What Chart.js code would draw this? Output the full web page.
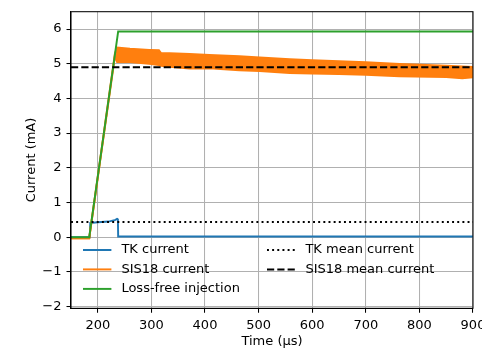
<!DOCTYPE html>
<html><head><meta charset="utf-8">
<script src="https://cdn.jsdelivr.net/npm/chart.js@4/dist/chart.umd.min.js"></script>
<style>html,body{margin:0;padding:0;background:#fff;overflow:hidden}</style>
</head><body>
<canvas id="c" width="482" height="349"></canvas>
<script>
// ---- data ----
const tkTime   = [150, 185, 186, 200, 220, 233, 236, 237.5, 238, 900];
const tkValues = [0.0, 0.0, 0.41, 0.43, 0.45, 0.50, 0.53, 0.52, 0.02, 0.02];

const sisTime  = [150, 184, 232, 236, 260, 296, 314, 318, 334, 371, 408, 464, 502, 558, 600, 650, 700, 763, 850, 880, 900];
const sisUpper = [-0.03, -0.03, 5.30, 5.47, 5.43, 5.40, 5.39, 5.31, 5.30, 5.28, 5.25, 5.22, 5.18, 5.13, 5.10, 5.07, 5.04, 4.99, 4.94, 4.92, 4.91];
const sisLower = [-0.03, -0.03, 5.22, 5.05, 5.05, 5.00, 4.96, 4.94, 4.91, 4.86, 4.87, 4.81, 4.79, 4.73, 4.72, 4.70, 4.68, 4.64, 4.62, 4.58, 4.61];

const lossFreeTime   = [150, 184, 238, 900];
const lossFreeValues = [0.0, 0.0, 5.93, 5.93];

const meanTime  = [150, 900];
const tkMean    = [0.44, 0.44];
const sisMean   = [4.90, 4.90];

const xTicks = [200, 300, 400, 500, 600, 700, 800, 900];
const yTicks = [-2, -1, 0, 1, 2, 3, 4, 5, 6];

const pts = (xs, ys) => xs.map((x, i) => ({x, y: ys[i]}));

Chart.defaults.font.family = '"DejaVu Sans", sans-serif';
Chart.defaults.font.size = 13;
Chart.defaults.color = '#000';

const LW = 1.95;

const datasets = [
  {label: 'TK current', data: pts(tkTime, tkValues), borderColor: '#1f77b4', borderWidth: LW, order: 6, legend: {col: 0, row: 0}},
  {label: 'SIS18 current', data: pts(sisTime, sisUpper), borderColor: '#ff7f0e', backgroundColor: '#ff7f0e', borderWidth: LW, fill: {target: 2}, order: 4, legend: {col: 0, row: 1}},
  {label: 'SIS18 lower', data: pts(sisTime, sisLower), borderColor: '#ff7f0e', borderWidth: LW, order: 5},
  {label: 'Loss-free injection', data: pts(lossFreeTime, lossFreeValues), borderColor: '#2ca02c', borderWidth: LW, order: 3, legend: {col: 0, row: 2}},
  {label: 'TK mean current', data: pts(meanTime, tkMean), borderColor: '#000', borderWidth: LW, borderDash: [1.95, 3.2], order: 2, legend: {col: 1, row: 0}},
  {label: 'SIS18 mean current', data: pts(meanTime, sisMean), borderColor: '#000', borderWidth: LW, borderDash: [7.2, 3.1], order: 1, legend: {col: 1, row: 1}}
];

const framePlugin = {
  id: 'frame',
  afterDatasetsDraw(chart) {
    const {ctx, chartArea: a} = chart;
    ctx.save();
    ctx.strokeStyle = '#000';
    ctx.lineWidth = 1.04;
    ctx.strokeRect(a.left, a.top, a.right - a.left, a.bottom - a.top);
    ctx.restore();
  }
};

const legendPlugin = {
  id: 'inlegend',
  afterDraw(chart) {
    const {ctx, chartArea: a} = chart;
    const colX = [a.left + 12, a.left + 196];
    const rowY = [a.bottom - 58.3, a.bottom - 38.9, a.bottom - 19.4];
    ctx.save();
    ctx.font = '13px "DejaVu Sans", sans-serif';
    ctx.textBaseline = 'middle';
    ctx.textAlign = 'left';
    chart.data.datasets.forEach(ds => {
      if (!ds.legend) return;
      const x0 = colX[ds.legend.col], y = rowY[ds.legend.row];
      ctx.beginPath();
      ctx.setLineDash(ds.borderDash || []);
      ctx.lineWidth = ds.borderWidth;
      ctx.strokeStyle = ds.borderColor;
      ctx.moveTo(x0, y);
      ctx.lineTo(x0 + 28.4, y);
      ctx.stroke();
      ctx.setLineDash([]);
      ctx.fillStyle = '#000';
      ctx.fillText(ds.label, x0 + 38.4, y);
    });
    ctx.restore();
  }
};

new Chart(document.getElementById('c'), {
  type: 'line',
  data: {datasets},
  options: {
    responsive: false,
    animation: false,
    devicePixelRatio: 1,
    layout: {padding: {left: 0, top: 11.7, right: 9, bottom: 0}},
    elements: {point: {radius: 0}, line: {tension: 0}},
    plugins: {legend: {display: false}, tooltip: {enabled: false}},
    scales: {
      x: {
        type: 'linear', min: 150, max: 900,
        afterBuildTicks: s => { s.ticks = xTicks.map(v => ({value: v})); },
        afterFit: s => { s.height = 40.7; s.paddingLeft = 0; s.paddingRight = 0; },
        ticks: {maxRotation: 0, autoSkip: false, padding: 5, color: '#000'},
        grid: {color: '#b0b0b0', lineWidth: 1.04, tickColor: '#000', tickLength: 4.5, tickWidth: 1.04},
        border: {color: '#000', width: 1.04},
        title: {display: true, text: 'Time (µs)', color: '#000', padding: {top: 0, bottom: 0}}
      },
      y: {
        type: 'linear', min: -2.05, max: 6.5,
        afterBuildTicks: s => { s.ticks = yTicks.map(v => ({value: v})); },
        afterFit: s => { s.width = 71; s.paddingTop = 0; s.paddingBottom = 0; },
        ticks: {padding: 5, color: '#000', callback: v => String(v).replace('-', '\u2212')},
        grid: {color: '#b0b0b0', lineWidth: 1.04, tickColor: '#000', tickLength: 4.5, tickWidth: 1.04},
        border: {color: '#000', width: 1.04},
        title: {display: true, text: 'Current (mA)', color: '#000', padding: {top: 23.7, bottom: 0}}
      }
    }
  },
  plugins: [framePlugin, legendPlugin]
});
</script>
</body></html>
